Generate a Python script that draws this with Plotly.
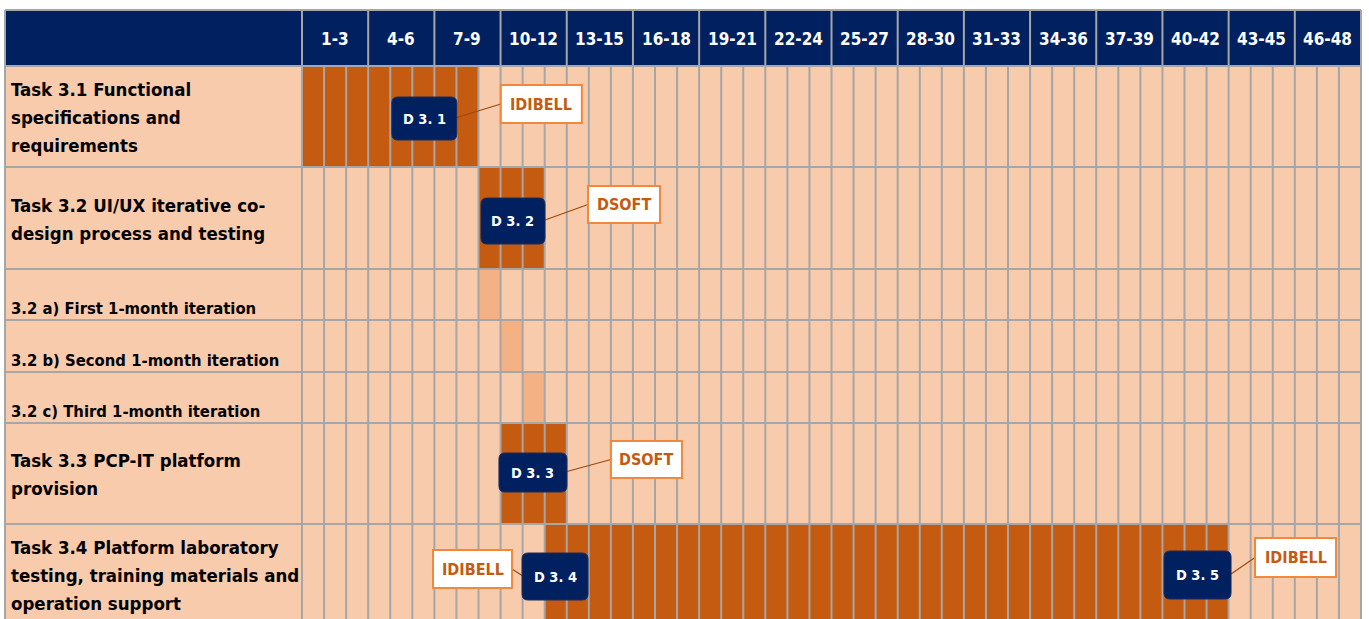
import plotly.graph_objects as go

# ---------------- data ----------------
group_labels = ["1-3", "4-6", "7-9", "10-12", "13-15", "16-18", "19-21", "22-24",
                "25-27", "28-30", "31-33", "34-36", "37-39", "40-42", "43-45", "46-48"]
task_labels = [
    "Task 3.1 Functional<br>specifications and<br>requirements",
    "Task 3.2 UI/UX iterative co-<br>design process and testing",
    "3.2 a) First 1-month iteration",
    "3.2 b) Second 1-month iteration",
    "3.2 c) Third 1-month iteration",
    "Task 3.3 PCP-IT platform<br>provision",
    "Task 3.4 Platform laboratory<br>testing, training materials and<br>operation support",
]
task_start = [1, 9, 9, 10, 11, 10, 12]
task_end = [8, 11, 9, 10, 11, 12, 42]
task_is_sub = [False, False, True, True, True, False, False]
deliv_names = ["D 3. 1", "D 3. 2", "D 3. 3", "D 3. 4", "D 3. 5"]
deliv_task = [0, 1, 5, 6, 6]
deliv_month = [6, 10, 11, 12, 41]
deliv_partner = ["IDIBELL", "DSOFT", "DSOFT", "IDIBELL", "IDIBELL"]
n_months = 48

# ---------------- layout / style ----------------
W, H = 1369, 619
XL, X0, XR = 5, 302, 1361          # left edge, month-0 edge, right edge (px)
MW = (XR - X0) / n_months           # px per month
HEAD_TOP, HEAD_BOT = 10, 66
row_edges = [66, 167, 269, 320, 372, 423, 524, 625]

NAVY = "#002060"
PEACH = "#F8CBAD"
BAR = "#C55A11"
BAR_LIGHT = "#F4B183"
GRID = "#A6A6A6"
LBL_BORDER = "#F0883E"

FONT_C = "DejaVu Sans Condensed, DejaVu Sans, sans-serif"

# deliverable box geometry (pixels)
deliv_dx = [1, 1.4, -0.7, -0.7, 2]
deliv_dy = [2, 3, -1, 2, 0.5]
deliv_w = [65, 64, 68, 66, 67]
deliv_h = [43, 46, 39, 47, 48]
label_dx = [117, 111, 113.5, -82.5, 98]
label_dy = [-14.5, -16.5, -13, -7.5, -17.5]
label_w = [81, 72, 71, 79, 81]
label_h = [38, 37, 37, 38, 39]


def px2m(px):
    return (px - X0) / MW


row_center = [(row_edges[i] + row_edges[i + 1]) / 2 for i in range(len(task_labels))]
row_height = [row_edges[i + 1] - row_edges[i] for i in range(len(task_labels))]

fig = go.Figure()

# bars
for sub, col in [(False, BAR), (True, BAR_LIGHT)]:
    idx = [i for i in range(len(task_labels)) if task_is_sub[i] == sub]
    fig.add_trace(go.Bar(
        orientation="h",
        base=[task_start[i] - 1 for i in idx],
        x=[task_end[i] - task_start[i] + 1 for i in idx],
        y=[row_center[i] for i in idx],
        width=[row_height[i] for i in idx],
        marker=dict(color=col, line=dict(width=0)),
        hoverinfo="skip",
        showlegend=False,
    ))

shapes = []
# backgrounds (below bars)
shapes.append(dict(type="rect", xref="x", yref="y", layer="below",
                   x0=px2m(XL), x1=n_months, y0=HEAD_BOT, y1=row_edges[-1],
                   fillcolor=PEACH, line=dict(width=0)))
shapes.append(dict(type="rect", xref="x", yref="y", layer="below",
                   x0=px2m(XL), x1=n_months, y0=HEAD_TOP, y1=HEAD_BOT,
                   fillcolor=NAVY, line=dict(width=0)))
# grid: month lines
for m in range(n_months + 1):
    shapes.append(dict(type="line", xref="x", yref="y", x0=m, x1=m,
                       y0=HEAD_BOT, y1=row_edges[-1], line=dict(color=GRID, width=2)))
    if m % 3 == 0:
        shapes.append(dict(type="line", xref="x", yref="y", x0=m, x1=m,
                           y0=HEAD_TOP, y1=HEAD_BOT, line=dict(color=GRID, width=2)))
shapes.append(dict(type="line", xref="x", yref="y", x0=px2m(XL), x1=px2m(XL),
                   y0=HEAD_TOP, y1=row_edges[-1], line=dict(color=GRID, width=2)))
for yy in [HEAD_TOP] + row_edges:
    shapes.append(dict(type="line", xref="x", yref="y", x0=px2m(XL), x1=n_months,
                       y0=yy, y1=yy, line=dict(color=GRID, width=2)))


def rounded_path(cx, cy, w, h, r):
    x0p, x1p = cx - w / 2, cx + w / 2
    y0, y1 = cy - h / 2, cy + h / 2
    X = lambda p: px2m(p)
    return (f"M {X(x0p + r)},{y0} L {X(x1p - r)},{y0} Q {X(x1p)},{y0} {X(x1p)},{y0 + r} "
            f"L {X(x1p)},{y1 - r} Q {X(x1p)},{y1} {X(x1p - r)},{y1} "
            f"L {X(x0p + r)},{y1} Q {X(x0p)},{y1} {X(x0p)},{y1 - r} "
            f"L {X(x0p)},{y0 + r} Q {X(x0p)},{y0} {X(x0p + r)},{y0} Z")


annotations = []
# header labels
for g, lab in enumerate(group_labels):
    annotations.append(dict(x=g * 3 + 1.5, y=(HEAD_TOP + HEAD_BOT) / 2 + 0.5, xref="x", yref="y",
                            text=lab, showarrow=False, xanchor="center", yanchor="middle",
                            font=dict(family=FONT_C, size=17, color="white", weight="bold")))
# task labels
for i, lab in enumerate(task_labels):
    lines = lab.split("<br>")
    if task_is_sub[i]:
        annotations.append(dict(x=px2m(9), y=row_edges[i + 1] - 12, xref="x", yref="y",
                                text=lab, showarrow=False, xanchor="left", yanchor="middle",
                                font=dict(family=FONT_C, size=16.5, color="black", weight="bold")))
    else:
        n = len(lines)
        for k, ln in enumerate(lines):
            annotations.append(dict(x=px2m(9), y=row_center[i] + 1 + (k - (n - 1) / 2) * 28,
                                    xref="x", yref="y", text=ln, showarrow=False,
                                    xanchor="left", yanchor="middle",
                                    font=dict(family=FONT_C, size=18.5, color="black", weight="bold")))

# deliverables
for d, name in enumerate(deliv_names):
    cx = X0 + (deliv_month[d] - 0.5) * MW + deliv_dx[d]
    cy = row_center[deliv_task[d]] + deliv_dy[d]
    w, h = deliv_w[d], deliv_h[d]
    lx, ly = cx + label_dx[d], cy + label_dy[d]
    lw, lh = label_w[d], label_h[d]
    # connector
    if label_dx[d] > 0:
        sx, ex = cx + w / 2, lx - lw / 2
    else:
        sx, ex = cx - w / 2, lx + lw / 2
    shapes.append(dict(type="line", xref="x", yref="y", x0=px2m(sx), x1=px2m(ex),
                       y0=cy - 1, y1=ly, line=dict(color="#A0480E", width=1.2)))
    shapes.append(dict(type="path", xref="x", yref="y", path=rounded_path(cx, cy, w, h, 6),
                       fillcolor=NAVY, line=dict(color="#1A2D5A", width=1)))
    shapes.append(dict(type="rect", xref="x", yref="y", x0=px2m(lx - lw / 2), x1=px2m(lx + lw / 2),
                       y0=ly - lh / 2, y1=ly + lh / 2, fillcolor="white",
                       line=dict(color=LBL_BORDER, width=2)))
    annotations.append(dict(x=px2m(cx), y=cy, xref="x", yref="y", text=name, showarrow=False,
                            xanchor="center", yanchor="middle",
                            font=dict(family=FONT_C, size=14.5, color="white", weight="bold")))
    annotations.append(dict(x=px2m(lx), y=ly, xref="x", yref="y", text=deliv_partner[d],
                            showarrow=False, xanchor="center", yanchor="middle",
                            font=dict(family=FONT_C, size=16, color=BAR, weight="bold")))

fig.update_layout(
    width=W, height=H,
    margin=dict(l=0, r=0, t=0, b=0),
    paper_bgcolor="white", plot_bgcolor="white",
    barmode="overlay", bargap=0,
    showlegend=False,
    xaxis=dict(range=[px2m(0), px2m(W)], visible=False, fixedrange=True),
    yaxis=dict(range=[H, 0], visible=False, fixedrange=True),
    shapes=shapes,
    annotations=annotations,
)

fig.write_html("out.html")
